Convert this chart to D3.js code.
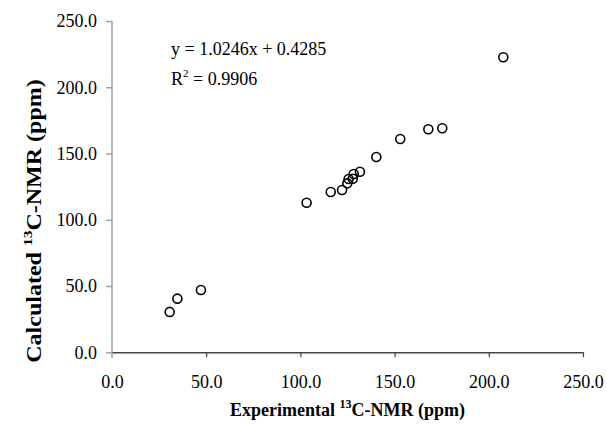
<!DOCTYPE html>
<html>
<head>
<meta charset="utf-8">
<script src="https://cdn.jsdelivr.net/npm/d3@7"></script>
<style>
  body { margin: 0; background: #fff; }
  svg { display: block; }
  svg text { font-family: 'Liberation Serif', 'Times New Roman', Times, serif !important; }
</style>
</head>
<body>
<svg width="607" height="425"></svg>
<script>
// values
const experimental = [207.7, 175.3, 167.9, 153.0, 140.3, 131.6, 128.3, 127.8, 125.6, 124.9, 122.1, 116.1, 103.3, 47.2, 34.7, 30.6];
const calculated   = [222.6, 169.1, 168.3, 161.0, 147.4, 136.3, 134.6, 131.0, 130.8, 127.5, 122.5, 121.0, 112.9, 47.0, 40.5, 30.5];
const xTicks = [0, 50, 100, 150, 200, 250];
const yTicks = [0, 50, 100, 150, 200, 250];
const equation = 'y = 1.0246x + 0.4285';
const rSquared = '0.9906';

const data = experimental.map((x, i) => ({x, y: calculated[i]}));

const svg = d3.select('svg');
const fmt = d3.format('.1f');
const serif = 'Liberation Serif';

const xScale = d3.scaleLinear().domain([0, 250]).range([112, 583]);
const yScale = d3.scaleLinear().domain([0, 250]).range([352.3, 21]);

// y axis (grey)
const yAxis = svg.append('g')
  .attr('transform', `translate(${xScale(0)},0)`)
  .call(d3.axisLeft(yScale).tickValues(yTicks).tickFormat(fmt).tickSize(6).tickPadding(9))
  .attr('font-family', serif).attr('font-size', 18);
yAxis.select('.domain').remove();
yAxis.selectAll('line').attr('stroke', '#a0a0a0').attr('stroke-width', 1.5);
yAxis.selectAll('text').attr('fill', '#000');
yAxis.append('line')
  .attr('y1', yScale(250)).attr('y2', yScale(0) + 6)
  .attr('stroke', '#a0a0a0').attr('stroke-width', 1.5);

// x axis (dark)
const xAxis = svg.append('g')
  .attr('transform', `translate(0,${yScale(0)})`)
  .call(d3.axisBottom(xScale).tickValues(xTicks).tickFormat(fmt).tickSize(5).tickSizeOuter(0).tickPadding(18))
  .attr('font-family', serif).attr('font-size', 18);
xAxis.select('.domain').attr('stroke', '#444').attr('stroke-width', 1.5);
xAxis.selectAll('line').attr('stroke', '#444').attr('stroke-width', 1.2);
xAxis.selectAll('text').attr('fill', '#000');
xAxis.select('.tick line').remove();

// points
svg.append('g').selectAll('circle')
  .data(data)
  .join('circle')
    .attr('cx', d => xScale(d.x))
    .attr('cy', d => yScale(d.y))
    .attr('r', 4.5)
    .attr('fill', 'none')
    .attr('stroke', '#000')
    .attr('stroke-width', 1.6);

// trendline label
svg.append('text')
  .attr('x', 171).attr('y', 55)
  .attr('font-family', serif).attr('font-size', 18)
  .text(equation);

const r2 = svg.append('text')
  .attr('x', 171).attr('y', 85)
  .attr('font-family', serif).attr('font-size', 18);
r2.append('tspan').text('R');
r2.append('tspan').attr('font-size', 11).attr('dy', -8).text('2');
r2.append('tspan').attr('dy', 8).text(' = ' + rSquared);

// axis titles
const xt = svg.append('text')
  .attr('x', (xScale(0) + xScale(250)) / 2).attr('y', 416)
  .attr('text-anchor', 'middle')
  .attr('font-family', serif).attr('font-size', 18).attr('font-weight', 'bold');
xt.append('tspan').text('Experimental  ');
xt.append('tspan').attr('font-size', 12).attr('dy', -8).text('13');
xt.append('tspan').attr('dy', 8).text('C-NMR (ppm)');

const yt = svg.append('text')
  .attr('transform', 'translate(41,221) rotate(-90) scale(1.2,1)')
  .attr('text-anchor', 'middle')
  .attr('font-family', serif).attr('font-size', 20).attr('font-weight', 'bold');
yt.append('tspan').text('Calculated  ');
yt.append('tspan').attr('font-size', 13).attr('dy', -9).text('13');
yt.append('tspan').attr('dy', 9).text('C-NMR (ppm)');
</script>
</body>
</html>
